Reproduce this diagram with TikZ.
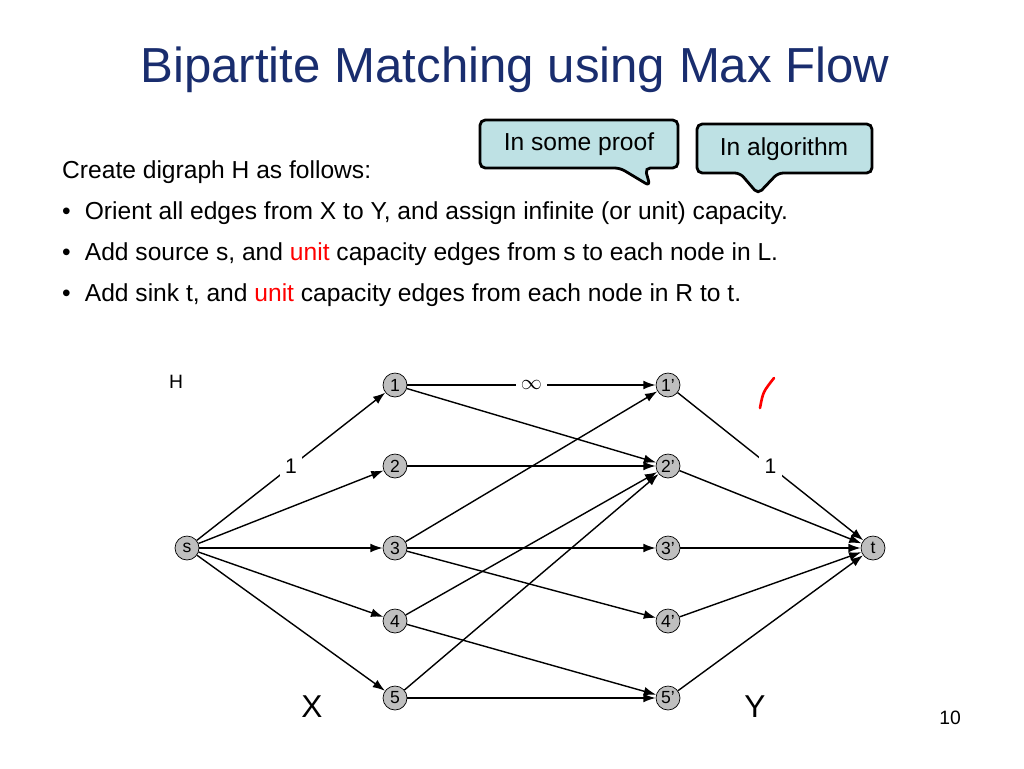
\documentclass[tikz,border=0pt]{standalone}
\usepackage{fontspec}
\setmainfont{Liberation Sans}
\usetikzlibrary{arrows.meta}
\definecolor{titleblue}{RGB}{25,45,110}
\definecolor{calloutfill}{RGB}{190,225,228}
\begin{document}
\begin{tikzpicture}[x=0.02cm,y=-0.02cm,
        % nodes of the graph
        vertex/.style={circle, draw, fill=black!25, inner sep=0pt, minimum size=0.48cm, font=\fontsize{10}{12}\selectfont},
        % directed edges
        edge/.style={-{Latex[length=7pt,width=5pt]}, line width=0.8pt},
        % capacity labels sitting on an edge
        caplabel/.style={fill=white, inner sep=3pt, font=\fontsize{12}{14}\selectfont},
        % speech bubbles
        bubble/.style={draw, line width=1.6pt, fill=calloutfill, rounded corners=3pt},
        bodytext/.style={anchor=west, font=\fontsize{14}{17}\selectfont}
    ]
        \useasboundingbox (0,0) rectangle (1024,768);

        % --- title and text ---
        \node[text=titleblue, font=\fontsize{28}{32}\selectfont] (title) at (515,70) {Bipartite Matching using Max Flow};
        \node[bodytext] (intro) at (56,172) {Create digraph H as follows:};
        \node[bodytext] (b1) at (56,213) {\textbullet\hspace{8pt}Orient all edges from X to Y, and assign infinite (or unit) capacity.};
        \node[bodytext] (b2) at (56,254) {\textbullet\hspace{8pt}Add source s, and \textcolor{red}{unit} capacity edges from s to each node in L.};
        \node[bodytext] (b3) at (56,295) {\textbullet\hspace{8pt}Add sink t, and \textcolor{red}{unit} capacity edges from each node in R to t.};

        % --- speech bubbles ---
        \draw[bubble] (480,120) -- (678,120) -- (678,168) -- (645,168) -- (650,186) -- (620,168) -- (480,168) -- cycle;
        \node[font=\fontsize{14}{17}\selectfont] (proof) at (579,144) {In some proof};
        \draw[bubble] (697,124) -- (872,124) -- (872,173) -- (778,173) -- (758,194) -- (740,173) -- (697,173) -- cycle;
        \node[font=\fontsize{14}{17}\selectfont] (algo) at (784,149) {In algorithm};

        % --- graph ---
        \node[vertex] (s) at (187,548) {s};
        \node[vertex] (t) at (873,548) {t};
        \foreach \i/\y in {1/385,2/466,3/548,4/621,5/698} {
            \node[vertex] (x\i) at (395,\y) {\i};
            \node[vertex] (y\i) at (668,\y) {\i'};
        }
        \node[font=\fontsize{11}{13}\selectfont] (H) at (176,382) {H};
        \node[font=\fontsize{18}{20}\selectfont] (X) at (312,707) {X};
        \node[font=\fontsize{18}{20}\selectfont] (Y) at (755,707) {Y};
        \node[font=\fontsize{11}{13}\selectfont] (page) at (950,718) {10};

        \draw[edge] (s) -- node[caplabel] {1} (x1);
        \foreach \i in {2,...,5} \draw[edge] (s) -- (x\i);
        \draw[edge] (x1) -- node[caplabel] {$\infty$} (y1);
        \foreach \a/\b in {1/2,2/2,3/1,3/3,3/4,4/2,4/5,5/2,5/5}
            \draw[edge] (x\a) -- (y\b);
        \draw[edge] (y1) -- node[caplabel] {1} (t);
        \foreach \i in {2,...,5} \draw[edge] (y\i) -- (t);

        % hand-drawn red stroke
        \draw[red, line width=1.5pt, line cap=round] (760,408) .. controls (763,392) .. (774,378);
    \end{tikzpicture}
\end{document}
